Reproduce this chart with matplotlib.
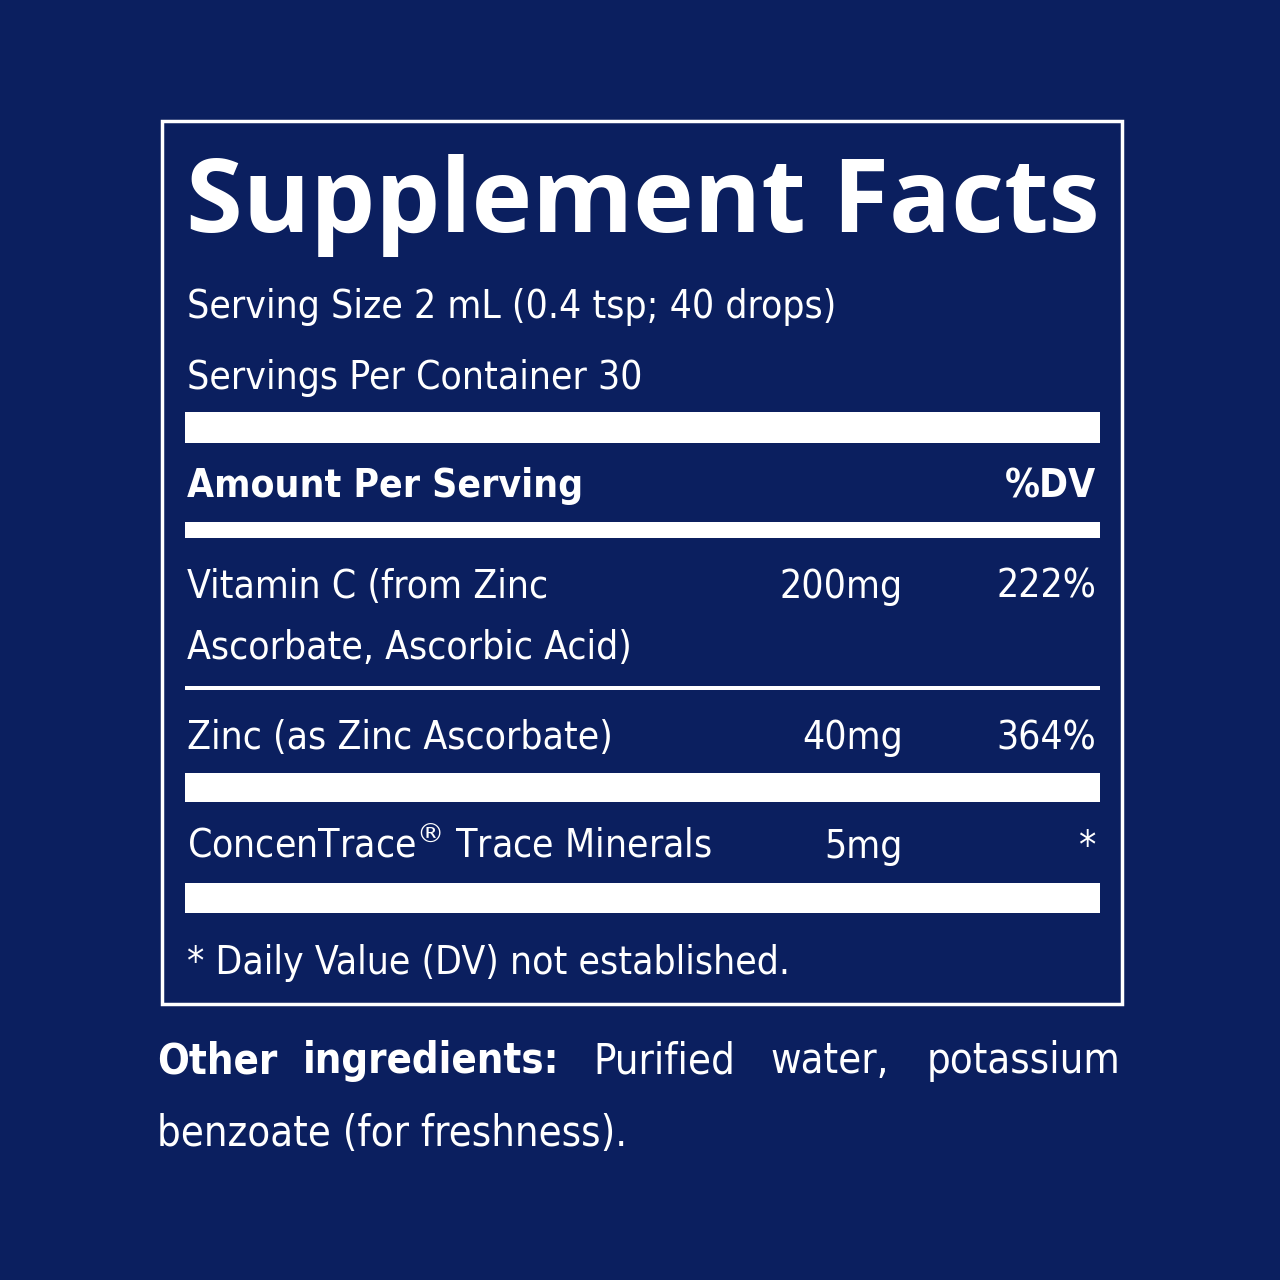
import matplotlib.pyplot as plt
from matplotlib.patches import Rectangle

BG = '#0b1f5f'
FONT = ['DejaVu Sans']

title = 'Supplement Facts'
serving_lines = ['Serving Size 2 mL (0.4 tsp; 40 drops)', 'Servings Per Container 30']
rows = [
    (['Vitamin C (from Zinc', 'Ascorbate, Ascorbic Acid)'], '200mg', '222%'),
    (['Zinc (as Zinc Ascorbate)'], '40mg', '364%'),
    (['ConcenTrace$^{®}$ Trace Minerals'], '5mg', '*'),
]
footnote = '* Daily Value (DV) not established.'
other_line1 = [('Other', True, 157, 'left'), ('ingredients:', True, 303, 'left'),
               ('Purified', False, 593, 'left'), ('water,', False, 770, 'left'),
               ('potassium', False, 1120, 'right')]
other_line2 = 'benzoate (for freshness).'

fig = plt.figure(figsize=(12.8, 12.8), dpi=100, facecolor=BG)
ax = fig.add_axes([0, 0, 1, 1])
ax.set_xlim(0, 1280)
ax.set_ylim(1280, 0)
ax.axis('off')
ax.set_facecolor(BG)

ax.add_patch(Rectangle((162, 121), 960, 883, fill=False, ec='white', lw=2.5))

def txt(x, y, s, size=28, bold=False, ha='left'):
    ax.text(x, y, s, color='white', fontsize=size, ha=ha, va='baseline',
            fontweight='bold' if bold else 'normal', family=FONT,
            fontstretch='condensed')

ax.text(186, 232, title, color='white', fontsize=74, fontweight='bold',
        family=['Open Sans', 'DejaVu Sans'], va='baseline')
txt(187, 318, serving_lines[0])
txt(187, 389, serving_lines[1])

def bar(y0, y1):
    ax.add_patch(Rectangle((185, y0), 915, y1 - y0, color='white', lw=0))

bar(412, 443)
txt(187, 497, 'Amount Per Serving', bold=True)
txt(1096, 497, '%DV', bold=True, ha='right')
bar(522, 538)

ys = [598, 749, 858]
for (names, amt, dv), y in zip(rows, ys):
    for i, n in enumerate(names):
        txt(187, y + i * 61, n)
    txt(903, y, amt, ha='right')
    txt(1096, y, dv, ha='right')

bar(686, 690)
bar(773, 802)
bar(883, 913)
txt(187, 974, footnote)

for w, b, x, ha in other_line1:
    txt(x, 1073, w, size=30, bold=b, ha=ha)
txt(157, 1146, other_line2, size=30)

fig.savefig('out.png', dpi=100, facecolor=BG)
